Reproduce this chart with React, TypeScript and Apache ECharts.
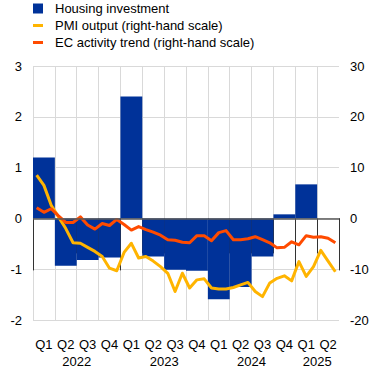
import React, { useEffect, useRef } from "react";
import * as echarts from "echarts";

const quarters = ["Q1", "Q2", "Q3", "Q4", "Q1", "Q2", "Q3", "Q4", "Q1", "Q2", "Q3", "Q4", "Q1", "Q2"];
// year labels placed on quarter boundaries (15 boundaries for 14 quarters)
const yearBoundaryLabels = ["", "", "2022", "", "", "", "2023", "", "", "", "2024", "", "", "2025", ""];
const yearSeparatorIdx = [0, 4, 8, 12, 14];
const months = [
  "2022-01", "2022-02", "2022-03", "2022-04", "2022-05", "2022-06", "2022-07", "2022-08", "2022-09", "2022-10", "2022-11", "2022-12",
  "2023-01", "2023-02", "2023-03", "2023-04", "2023-05", "2023-06", "2023-07", "2023-08", "2023-09", "2023-10", "2023-11", "2023-12",
  "2024-01", "2024-02", "2024-03", "2024-04", "2024-05", "2024-06", "2024-07", "2024-08", "2024-09", "2024-10", "2024-11", "2024-12",
  "2025-01", "2025-02", "2025-03", "2025-04", "2025-05", "2025-06",
];

const housingInvestment = [1.2, -0.93, -0.82, -0.77, 2.4, -0.75, -1.01, -1.03, -1.59, -1.35, -0.75, 0.08, 0.67, null];

const pmiOutput = [
  8.5, 6.5, 2.6, 0.3, -2.0, -4.8, -4.9, -5.7, -6.5, -7.5, -9.8, -10.3,
  -6.7, -4.9, -7.8, -7.5, -8.4, -9.5, -10.8, -14.4, -10.8, -13.7, -12.1, -11.9,
  -13.7, -13.9, -13.9, -13.6, -13.1, -12.6, -14.4, -15.4, -12.7, -11.8, -11.3, -12.3,
  -8.5, -11.4, -9.5, -6.3, -8.4, -10.5,
];

const ecActivityTrend = [
  2.1, 1.2, 1.9, 0.5, -0.8, -0.8, 0.3, -1.3, -2.1, -1.0, -1.4, -0.2,
  -1.2, -2.3, -1.6, -2.2, -2.7, -3.3, -4.2, -4.3, -4.7, -4.8, -3.4, -3.4,
  -4.4, -2.8, -2.4, -4.2, -4.2, -4.0, -3.6, -4.2, -4.8, -5.8, -5.7, -4.6,
  -5.2, -3.4, -3.7, -3.6, -3.9, -4.8,
];

const leftTicks = { min: -2, max: 3, interval: 1 };
const rightTicks = { min: -20, max: 30, interval: 10 };

const FONT = "'Liberation Sans', Arial, sans-serif";
const BLUE = "#003299";
const YELLOW = "#FFB400";
const ORANGE = "#FF4B00";
const GRID = "#d9d9d9";
const TICK = "#333333";
const LINE_ICON = "path://M0,0 L10,0 L10,3 L0,3 Z";

// vertical grid colours: one per quarter boundary, the right-hand border is not drawn
const vGridColors = quarters.map(() => GRID).concat(["rgba(0,0,0,0)"]);

export default function App() {
  const ref = useRef<HTMLDivElement>(null);
  useEffect(() => {
    if (!ref.current) return;
    const chart = echarts.init(ref.current, null, { renderer: "svg" });
    chart.setOption({
      animation: false,
      textStyle: { fontFamily: FONT },
      legend: {
        orient: "vertical",
        left: 33,
        top: 2,
        padding: 0,
        itemWidth: 10,
        itemHeight: 10,
        itemGap: 4,
        symbolKeepAspect: true,
        textStyle: { fontSize: 13, color: "#000", fontFamily: FONT, padding: [0, 0, 0, 7] },
        data: [
          { name: "Housing investment", icon: "rect" },
          { name: "PMI output (right-hand scale)", icon: LINE_ICON },
          { name: "EC activity trend (right-hand scale)", icon: LINE_ICON },
        ],
      },
      grid: { left: 33, right: 33, top: 66, bottom: 51, containLabel: false },
      xAxis: [
        {
          type: "category",
          data: quarters,
          position: "bottom",
          boundaryGap: true,
          axisLine: { show: false },
          axisTick: { show: true, interval: 0, length: 35, lineStyle: { color: TICK, width: 1 } },
          axisLabel: { interval: 0, margin: 18, fontSize: 13, color: "#000", fontFamily: FONT },
          splitLine: {
            show: true,
            interval: 0,
            lineStyle: { color: vGridColors, width: 1 },
          },
        },
        {
          type: "category",
          data: yearBoundaryLabels,
          position: "bottom",
          boundaryGap: false,
          axisLine: { show: false },
          axisTick: {
            show: true,
            interval: (i: number) => yearSeparatorIdx.indexOf(i) >= 0,
            length: 52,
            lineStyle: { color: TICK, width: 1 },
          },
          axisLabel: { interval: 0, margin: 35, fontSize: 13, color: "#000", fontFamily: FONT },
          splitLine: { show: false },
        },
        {
          type: "category",
          data: months,
          show: false,
          boundaryGap: true,
        },
      ],
      yAxis: [
        {
          type: "value",
          position: "left",
          ...leftTicks,
          axisLine: { show: false },
          axisTick: { show: false },
          axisLabel: { margin: 11, fontSize: 13, color: "#000", fontFamily: FONT },
          splitLine: { show: true, lineStyle: { color: GRID, width: 1 } },
        },
        {
          type: "value",
          position: "right",
          ...rightTicks,
          axisLine: { show: false },
          axisTick: { show: false },
          axisLabel: { margin: 11, fontSize: 13, color: "#000", fontFamily: FONT },
          splitLine: { show: false },
        },
      ],
      series: [
        {
          name: "Housing investment",
          type: "bar",
          xAxisIndex: 0,
          yAxisIndex: 0,
          data: housingInvestment,
          barCategoryGap: "0%",
          itemStyle: { color: BLUE },
          markLine: {
            silent: true,
            symbol: "none",
            label: { show: false },
            lineStyle: { color: "#595959", width: 1.5, type: "solid" },
            data: [{ yAxis: 0 }],
          },
        },
        {
          name: "PMI output (right-hand scale)",
          type: "line",
          xAxisIndex: 2,
          yAxisIndex: 1,
          data: pmiOutput,
          symbol: "none",
          color: YELLOW,
          lineStyle: { color: YELLOW, width: 3, join: "round" },
        },
        {
          name: "EC activity trend (right-hand scale)",
          type: "line",
          xAxisIndex: 2,
          yAxisIndex: 1,
          data: ecActivityTrend,
          symbol: "none",
          color: ORANGE,
          lineStyle: { color: ORANGE, width: 3, join: "round" },
        },
      ],
    });
    return () => chart.dispose();
  }, []);
  return (
    <div
      ref={ref}
      style={{ position: "absolute", left: 0, top: 0, width: 372, height: 371, background: "#fff" }}
    />
  );
}
